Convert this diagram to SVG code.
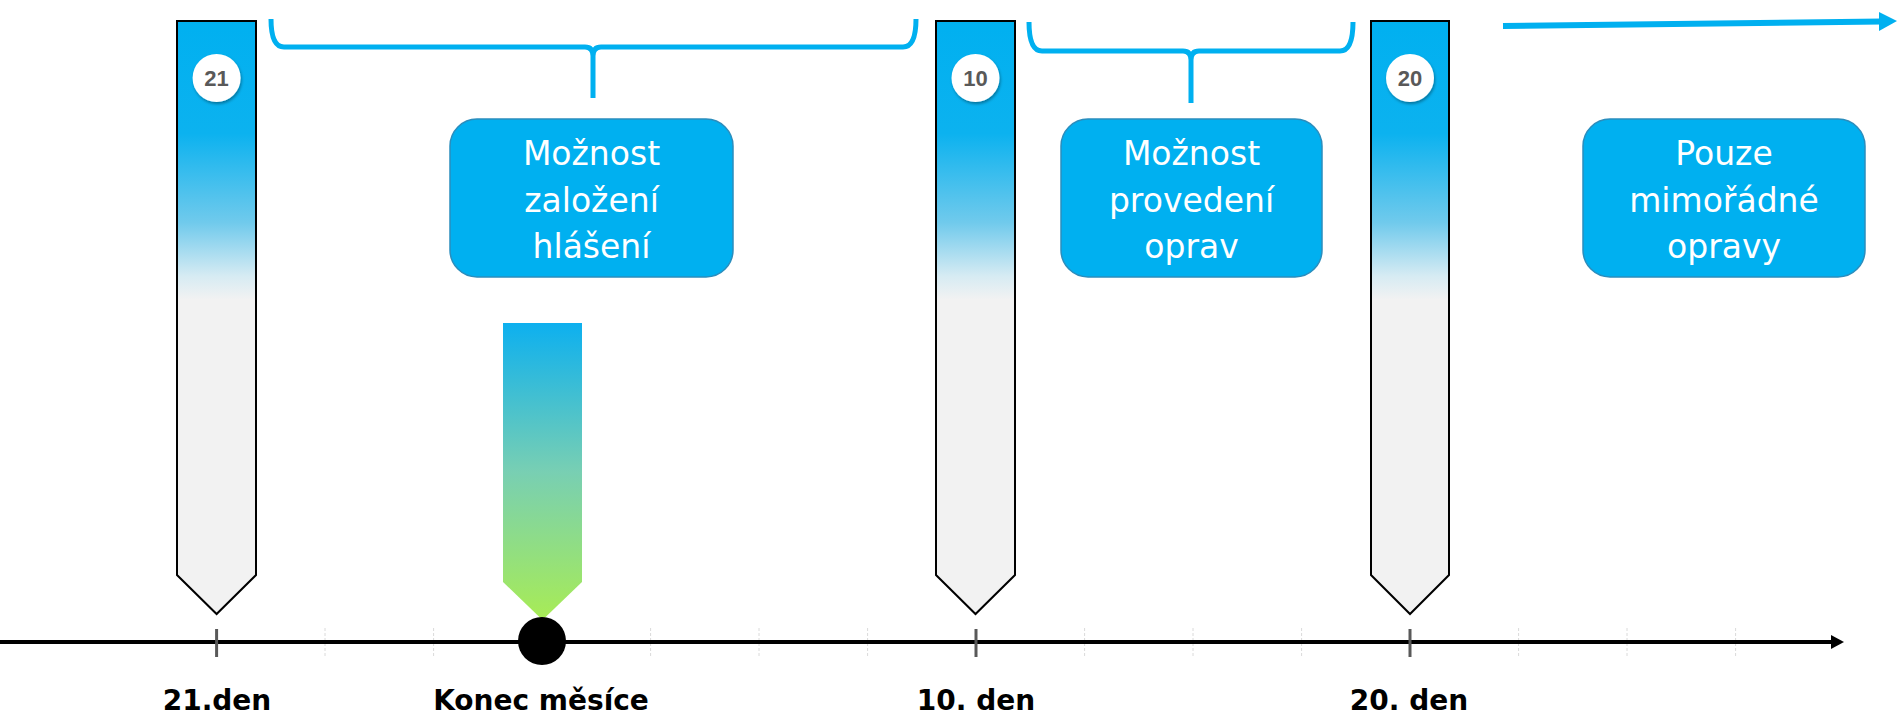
<svg xmlns="http://www.w3.org/2000/svg" width="1897" height="715" viewBox="0 0 1897 715">
<defs>
<linearGradient id="pinGrad" x1="0" y1="0" x2="0" y2="1">
<stop offset="0" stop-color="#00b0f0"/>
<stop offset="0.19" stop-color="#0cb2ef"/>
<stop offset="0.34" stop-color="#70caec"/>
<stop offset="0.43" stop-color="#d6ebf3"/>
<stop offset="0.47" stop-color="#f2f2f2"/>
<stop offset="1" stop-color="#f2f2f2"/>
</linearGradient>
<linearGradient id="greenGrad" x1="0" y1="0" x2="0" y2="1">
<stop offset="0" stop-color="#0db0ef"/>
<stop offset="0.5" stop-color="#78cfb3"/>
<stop offset="1" stop-color="#a8ec55"/>
</linearGradient>
<filter id="shadow" x="-30%" y="-30%" width="160%" height="160%">
<feDropShadow dx="1" dy="2" stdDeviation="1.5" flood-color="#000" flood-opacity="0.35"/>
</filter>
</defs>
<style>
.pin{fill:url(#pinGrad);stroke:#000;stroke-width:2}
.badge{fill:#fff;filter:url(#shadow)}
.badgeText{font-family:"Liberation Sans",Arial,sans-serif;font-weight:bold;font-size:22px;fill:#595959;text-anchor:middle}
.box{fill:#00b0f0;stroke:#2a8dbd;stroke-width:1.5}
.boxText{font-family:"DejaVu Sans",Verdana,sans-serif;font-size:33px;fill:#fff;text-anchor:middle}
.brace{fill:none;stroke:#00b0f0;stroke-width:5;stroke-linejoin:round}
.minor{stroke:#dadada;stroke-width:1;stroke-dasharray:3 2}
.major{stroke:#595959;stroke-width:3}
.label{font-family:"DejaVu Sans",Verdana,sans-serif;font-weight:bold;font-size:28px;fill:#000;text-anchor:middle}
</style>
<rect width="1897" height="715" fill="#fff"/>

<g id="connectors">
<g id="ticks">
<line class="minor" x1="325" y1="628" x2="325" y2="656"/>
<line class="minor" x1="433.6" y1="628" x2="433.6" y2="656"/>
<line class="minor" x1="650.6" y1="628" x2="650.6" y2="656"/>
<line class="minor" x1="759" y1="628" x2="759" y2="656"/>
<line class="minor" x1="867.6" y1="628" x2="867.6" y2="656"/>
<line class="minor" x1="1084.6" y1="628" x2="1084.6" y2="656"/>
<line class="minor" x1="1193" y1="628" x2="1193" y2="656"/>
<line class="minor" x1="1301.6" y1="628" x2="1301.6" y2="656"/>
<line class="minor" x1="1518.6" y1="628" x2="1518.6" y2="656"/>
<line class="minor" x1="1627" y1="628" x2="1627" y2="656"/>
<line class="minor" x1="1735.6" y1="628" x2="1735.6" y2="656"/>
</g>
<line id="axis" x1="0" y1="642" x2="1832" y2="642" stroke="#000" stroke-width="4"/>
<polygon points="1831,635 1844,642 1831,649" fill="#000"/>
<line class="major" x1="216.6" y1="629" x2="216.6" y2="657"/>
<line class="major" x1="976" y1="629" x2="976" y2="657"/>
<line class="major" x1="1410" y1="629" x2="1410" y2="657"/>
<path class="brace" d="M271,19 Q271,47 284,47 L585,47 Q593,47 593,56 L593,98 M593,56 Q593,47 601,47 L903,47 Q916,47 916,19"/>
<path class="brace" d="M1029,22 Q1029,51 1042,51 L1183,51 Q1191,51 1191,60 L1191,103 M1191,60 Q1191,51 1199,51 L1340,51 Q1353,51 1353,22"/>
<line x1="1503" y1="26" x2="1882" y2="21.5" stroke="#00b0f0" stroke-width="6"/>
<polygon points="1879,12 1897,21 1879,31" fill="#00b0f0"/>
</g>

<g id="pin21">
<path class="pin" d="M177,21 L256,21 L256,575 L216.6,614 L177,575 Z"/>
<circle class="badge" cx="216.6" cy="78" r="24"/>
<text class="badgeText" x="216.6" y="86">21</text>
</g>
<g id="pin10">
<path class="pin" d="M936,21 L1015,21 L1015,575 L975.5,614 L936,575 Z"/>
<circle class="badge" cx="975.5" cy="78" r="24"/>
<text class="badgeText" x="975.5" y="86">10</text>
</g>
<g id="pin20">
<path class="pin" d="M1371,21 L1449,21 L1449,575 L1410,614 L1371,575 Z"/>
<circle class="badge" cx="1410" cy="78" r="24"/>
<text class="badgeText" x="1410" y="86">20</text>
</g>

<g id="monthEnd">
<path d="M503,323 L582,323 L582,582 L542.5,620 L503,582 Z" fill="url(#greenGrad)"/>
<circle cx="542" cy="641" r="24" fill="#000"/>
</g>

<g id="box1">
<rect class="box" x="450" y="119" width="283" height="158" rx="27"/>
<text class="boxText" x="591.5" y="165">Možnost</text>
<text class="boxText" x="591.5" y="212">založení</text>
<text class="boxText" x="591.5" y="258">hlášení</text>
</g>
<g id="box2">
<rect class="box" x="1061" y="119" width="261" height="158" rx="27"/>
<text class="boxText" x="1191.5" y="165">Možnost</text>
<text class="boxText" x="1191.5" y="212">provedení</text>
<text class="boxText" x="1191.5" y="258">oprav</text>
</g>
<g id="box3">
<rect class="box" x="1583" y="119" width="282" height="158" rx="27"/>
<text class="boxText" x="1724" y="165">Pouze</text>
<text class="boxText" x="1724" y="212">mimořádné</text>
<text class="boxText" x="1724" y="258">opravy</text>
</g>

<g id="labels">
<text class="label" x="217" y="710">21.den</text>
<text class="label" x="541" y="710">Konec měsíce</text>
<text class="label" x="976" y="710">10. den</text>
<text class="label" x="1409" y="710">20. den</text>
</g>
</svg>
